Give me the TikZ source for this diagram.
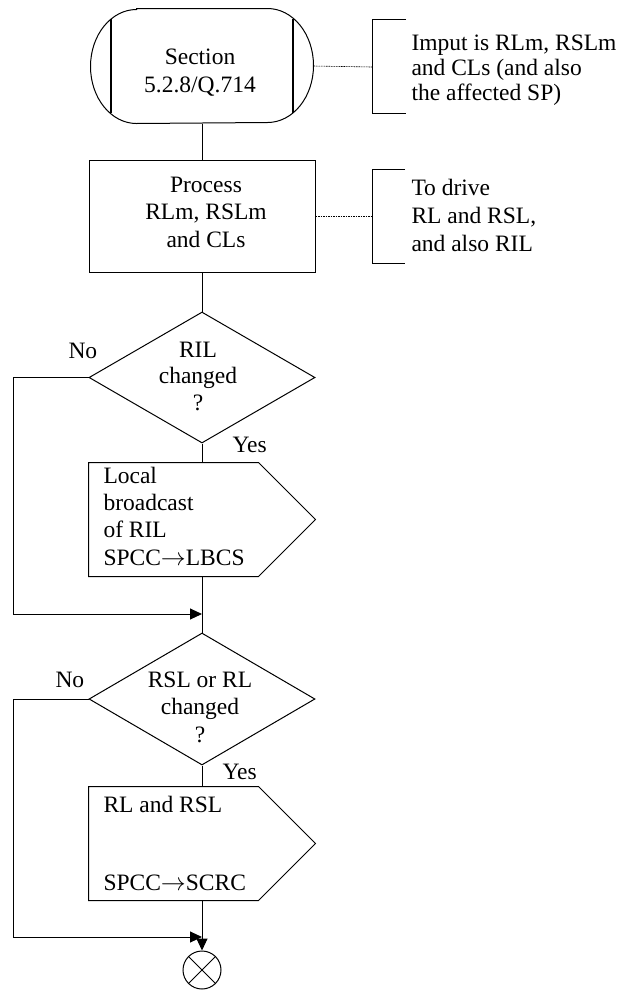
\documentclass[tikz,border=0pt]{standalone}
\usepackage{fontspec}
\setmainfont{Liberation Serif}
\usetikzlibrary{arrows.meta,shapes.geometric}
\begin{document}
\begin{tikzpicture}[x=1pt,y=-1pt,
  line width=1pt,
  txt/.style={inner sep=0pt,font=\fontsize{23.5pt}{27.5pt}\selectfont},
  ctxt/.style={txt,align=center,anchor=base},
  ltxt/.style={txt,align=left,anchor=base west},
  shapebox/.style={rectangle,inner sep=0pt,minimum width=226pt},
  dec/.style={diamond,draw,inner sep=0pt,minimum width=226pt,minimum height=131pt},
  note/.style={line width=0.6pt,dash pattern=on 1.6pt off 0.9pt},
  arr/.style={-{Triangle[length=12pt,width=11pt]}}]
\useasboundingbox (0,0) rectangle (623,994);

% start terminator
\node[shapebox,minimum width=222pt,minimum height=114pt] (start) at (202,66) {};
\draw ([xshift=46pt]start.north west) -- ([xshift=-46pt]start.north east)
  arc[start angle=90,end angle=-90,x radius=46pt,y radius=57pt]
  -- ([xshift=46pt]start.south west)
  arc[start angle=270,end angle=90,x radius=46pt,y radius=57pt] -- cycle;
\draw[line width=2pt] (111,19) -- (111,113);
\draw[line width=2pt] (293,19) -- (293,113);
\node[ctxt,font=\fontsize{23.5pt}{28pt}\selectfont] (starttxt) at (200,92) {Section\\5.2.8/Q.714};

% comment 1
\coordinate (b1) at (372,67);
\draw (406,19) -- (372,19) -- (372,113) -- (406,113);
\draw[note] (start.east) -- (b1);
\node[ltxt,font=\fontsize{23.5pt}{25pt}\selectfont] (c1) at (411,100) {Imput is RLm, RSLm\\and CLs (and also\\the affected SP)};

% process
\node[shapebox,draw,minimum height=112pt] (proc) at (202,216) {};
\node[ctxt] (proctxt) at (206,247) {Process\\RLm, RSLm\\and CLs};

% comment 2
\coordinate (b2) at (372,216);
\draw (405,169) -- (372,169) -- (372,263) -- (405,263);
\draw[note] (proc.east) -- (b2);
\node[ltxt,font=\fontsize{23.5pt}{28pt}\selectfont] (c2) at (411,251) {To drive\\RL and RSL,\\and also RIL};

\draw (start.south) -- (proc.north);

% decision 1
\node[dec] (d1) at (202,377.5) {};
\node[ctxt,font=\fontsize{23.5pt}{26.5pt}\selectfont] (d1txt) at (198,410) {RIL\\changed\\?};
\draw (proc.south) -- (d1.north);
\node[ltxt] (no1) at (68,358) {No};
\node[ltxt] (yes1) at (232,452) {Yes};

% output 1
\node[shapebox,minimum height=113pt] (out1) at (202,519.5) {};
\draw (out1.north west) -- ([xshift=-57pt]out1.north east) -- (out1.east)
  -- ([xshift=-57pt]out1.south east) -- (out1.south west) -- cycle;
\node[ltxt,font=\fontsize{23.5pt}{27.3pt}\selectfont] (out1txt) at (103,565) {Local\\broadcast\\of RIL\\SPCC$\rightarrow$LBCS};
\draw (d1.south) -- (out1.north);

% junction 1
\coordinate (j1) at (202,614);
\coordinate (l1) at (13,614);
\draw[arr] (d1.west) -| (l1) -- (j1);

% decision 2
\node[dec,minimum height=132pt] (d2) at (202,699) {};
\node[ctxt] (d2txt) at (200,742) {RSL or RL\\changed\\?};
\draw (out1.south) -- (d2.north);
\node[ltxt] (no2) at (55,687) {No};
\node[ltxt] (yes2) at (222,779) {Yes};

% output 2
\node[shapebox,minimum height=113pt] (out2) at (202,843.5) {};
\draw (out2.north west) -- ([xshift=-57pt]out2.north east) -- (out2.east)
  -- ([xshift=-57pt]out2.south east) -- (out2.south west) -- cycle;
\node[ltxt] (out2txt) at (103,890) {RL and RSL\\[50.5pt]SPCC$\rightarrow$SCRC};
\draw (d2.south) -- (out2.north);

% junction 2 and end
\coordinate (j2) at (202,937);
\coordinate (l2) at (13,937);
\draw[arr] (d2.west) -| (l2) -- (j2);
\node[circle,draw,inner sep=0pt,minimum size=38pt] (stop) at (202,970) {};
\draw (stop.north west) -- (stop.south east);
\draw (stop.north east) -- (stop.south west);
\draw[arr] (out2.south) -- (stop.north);
\end{tikzpicture}
\end{document}
